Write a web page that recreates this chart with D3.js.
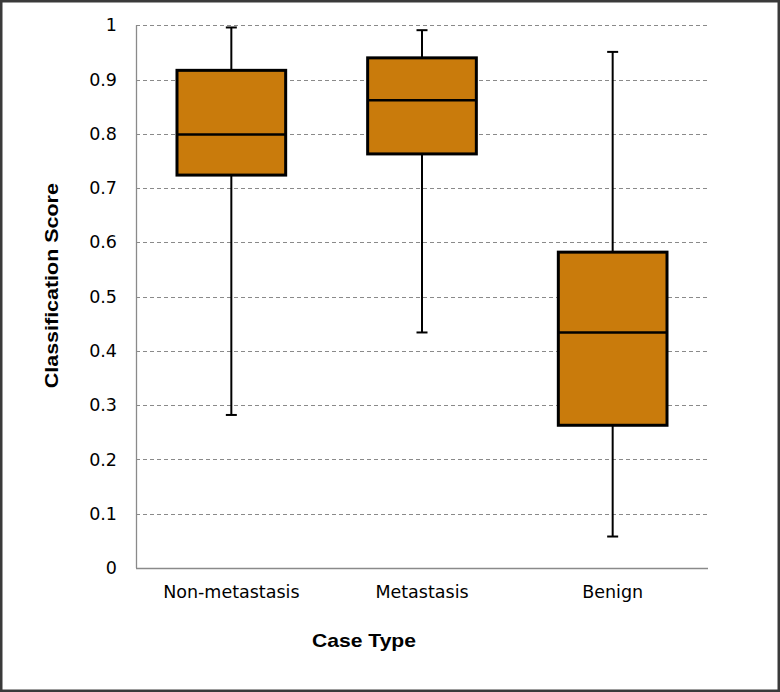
<!DOCTYPE html>
<html>
<head>
<meta charset="utf-8">
<script src="https://cdn.jsdelivr.net/npm/d3@7"></script>
<style>
  html, body { margin: 0; padding: 0; background: #fff; }
  svg { display: block; }
</style>
</head>
<body>
<svg id="chart" width="780" height="692"></svg>
<script>
const categories = ["Non-metastasis", "Metastasis", "Benign"];
const whiskerLow  = [0.282, 0.434, 0.058];
const q1Values    = [0.724, 0.763, 0.263];
const medians     = [0.799, 0.862, 0.434];
const q3Values    = [0.917, 0.940, 0.582];
const whiskerHigh = [0.996, 0.991, 0.951];
const yTicks = [0, 0.1, 0.2, 0.3, 0.4, 0.5, 0.6, 0.7, 0.8, 0.9, 1];

const svg = d3.select("#chart");
const W = 780, H = 692;
const m = { left: 136, right: 72, top: 25.3, bottom: 124 };
const x0 = m.left, x1 = W - m.right, yTop = m.top, yBot = H - m.bottom;

// frame
svg.append("rect").attr("x", 1.25).attr("y", 1.25).attr("width", W - 2.5).attr("height", H - 2.5)
  .attr("fill", "#fff").attr("stroke", "#3a3a3a").attr("stroke-width", 2.5);

const x = d3.scaleBand().domain(categories).range([x0, x1]).paddingInner(0).paddingOuter(0);
const y = d3.scaleLinear().domain([0, 1]).range([yBot, yTop]);

const tickFont = "'DejaVu Sans', sans-serif";

// gridlines
svg.append("g").selectAll("line").data(yTicks.filter(d => d > 0)).join("line")
  .attr("x1", x0).attr("x2", x1)
  .attr("y1", d => Math.round(y(d)) + 0.5).attr("y2", d => Math.round(y(d)) + 0.5)
  .attr("stroke", "#8a8a8a").attr("stroke-width", 1).attr("stroke-dasharray", "4,3");

// y axis
const yAxis = d3.axisLeft(y).tickValues(yTicks).tickFormat(d => String(d)).tickSize(0).tickPadding(19);
const gy = svg.append("g").attr("transform", `translate(${x0},0)`).call(yAxis);
gy.select(".domain").remove();
gy.selectAll("text").attr("font-family", tickFont).attr("font-size", 17.5).attr("fill", "#000");

// x axis
const xAxis = d3.axisBottom(x).tickSize(0).tickPadding(18);
const gx = svg.append("g").attr("transform", `translate(0,${yBot})`).call(xAxis);
gx.select(".domain").remove();
gx.selectAll("text").attr("font-family", tickFont).attr("font-size", 17.5).attr("fill", "#000");

// axis lines
svg.append("line").attr("x1", x0 + 0.5).attr("x2", x0 + 0.5).attr("y1", yTop).attr("y2", yBot)
  .attr("stroke", "#8a8a8a").attr("stroke-width", 1.3);
svg.append("line").attr("x1", x0).attr("x2", x1).attr("y1", yBot + 0.5).attr("y2", yBot + 0.5)
  .attr("stroke", "#8a8a8a").attr("stroke-width", 1.3);

// boxes
const boxW = x.bandwidth() * 0.57;
const capW = 11;
const data = categories.map((c, i) => ({
  c, lo: whiskerLow[i], q1: q1Values[i], med: medians[i], q3: q3Values[i], hi: whiskerHigh[i]
}));
const g = svg.append("g").selectAll("g").data(data).join("g")
  .attr("transform", d => `translate(${x(d.c) + x.bandwidth() / 2},0)`);

g.append("line").attr("x1", 0).attr("x2", 0).attr("y1", d => y(d.hi)).attr("y2", d => y(d.q3))
  .attr("stroke", "#000").attr("stroke-width", 2);
g.append("line").attr("x1", 0).attr("x2", 0).attr("y1", d => y(d.q1)).attr("y2", d => y(d.lo))
  .attr("stroke", "#000").attr("stroke-width", 2);
g.append("line").attr("x1", -capW / 2).attr("x2", capW / 2).attr("y1", d => y(d.hi)).attr("y2", d => y(d.hi))
  .attr("stroke", "#000").attr("stroke-width", 2);
g.append("line").attr("x1", -capW / 2).attr("x2", capW / 2).attr("y1", d => y(d.lo)).attr("y2", d => y(d.lo))
  .attr("stroke", "#000").attr("stroke-width", 2);
g.append("rect").attr("x", -boxW / 2).attr("width", boxW)
  .attr("y", d => y(d.q3)).attr("height", d => y(d.q1) - y(d.q3))
  .attr("fill", "#C97B0C").attr("stroke", "#000").attr("stroke-width", 3);
g.append("line").attr("x1", -boxW / 2).attr("x2", boxW / 2).attr("y1", d => y(d.med)).attr("y2", d => y(d.med))
  .attr("stroke", "#000").attr("stroke-width", 2.5);

// axis titles
svg.append("text").attr("x", 364).attr("y", 647)
  .attr("text-anchor", "middle").attr("font-family", "'Liberation Sans', Arial, sans-serif")
  .attr("font-weight", "bold").attr("font-size", 19).attr("fill", "#000")
  .attr("textLength", 104).attr("lengthAdjust", "spacingAndGlyphs")
  .text("Case Type");
svg.append("text").attr("transform", "translate(58,285.7) rotate(-90)")
  .attr("text-anchor", "middle").attr("font-family", "'Liberation Sans', Arial, sans-serif")
  .attr("font-weight", "bold").attr("font-size", 19).attr("fill", "#000")
  .attr("textLength", 205).attr("lengthAdjust", "spacingAndGlyphs")
  .text("Classification Score");
</script>
</body>
</html>
